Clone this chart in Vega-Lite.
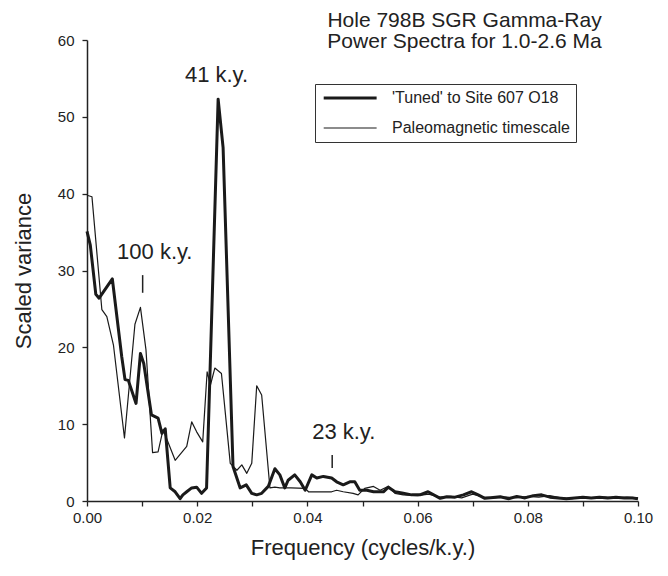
{
  "$schema": "https://vega.github.io/schema/vega-lite/v6.json",
  "width": 551,
  "height": 461,
  "autosize": {"type": "none"},
  "padding": {"left": 87, "top": 40, "right": 30, "bottom": 75},
  "background": "white",
  "title": {
    "text": ["Hole 798B SGR Gamma-Ray", "Power Spectra for 1.0-2.6 Ma"],
    "anchor": "middle",
    "align": "center",
    "dx": 102,
    "offset": -19,
    "fontSize": 21,
    "fontWeight": "normal",
    "lineHeight": 21,
    "color": "#222",
    "font": "Liberation Sans"
  },
  "config": {
    "view": {"stroke": null},
    "font": "Liberation Sans",
    "axis": {
      "grid": false,
      "domainColor": "#222",
      "domainWidth": 1.5,
      "tickColor": "#222",
      "tickWidth": 1.3,
      "tickSize": 5,
      "labelFontSize": 15,
      "labelColor": "#222",
      "titleFontSize": 22,
      "titleFontWeight": "normal",
      "titleColor": "#222",
      "labelOverlap": false,
      "labelFlush": false
    }
  },
  "datasets": {
    "spectra": [
      {"f": 0.0000, "v": 35.1, "series": "'Tuned' to Site 607 O18"},
      {"f": 0.0006, "v": 33.3, "series": "'Tuned' to Site 607 O18"},
      {"f": 0.0016, "v": 26.9, "series": "'Tuned' to Site 607 O18"},
      {"f": 0.0022, "v": 26.4, "series": "'Tuned' to Site 607 O18"},
      {"f": 0.0046, "v": 28.9, "series": "'Tuned' to Site 607 O18"},
      {"f": 0.0063, "v": 18.8, "series": "'Tuned' to Site 607 O18"},
      {"f": 0.0069, "v": 15.8, "series": "'Tuned' to Site 607 O18"},
      {"f": 0.0075, "v": 15.7, "series": "'Tuned' to Site 607 O18"},
      {"f": 0.0089, "v": 12.7, "series": "'Tuned' to Site 607 O18"},
      {"f": 0.0097, "v": 19.2, "series": "'Tuned' to Site 607 O18"},
      {"f": 0.0103, "v": 17.9, "series": "'Tuned' to Site 607 O18"},
      {"f": 0.0117, "v": 11.2, "series": "'Tuned' to Site 607 O18"},
      {"f": 0.0129, "v": 10.8, "series": "'Tuned' to Site 607 O18"},
      {"f": 0.0136, "v": 8.8, "series": "'Tuned' to Site 607 O18"},
      {"f": 0.0142, "v": 9.4, "series": "'Tuned' to Site 607 O18"},
      {"f": 0.0151, "v": 1.7, "series": "'Tuned' to Site 607 O18"},
      {"f": 0.0160, "v": 1.2, "series": "'Tuned' to Site 607 O18"},
      {"f": 0.0169, "v": 0.3, "series": "'Tuned' to Site 607 O18"},
      {"f": 0.0174, "v": 0.8, "series": "'Tuned' to Site 607 O18"},
      {"f": 0.0181, "v": 1.2, "series": "'Tuned' to Site 607 O18"},
      {"f": 0.0190, "v": 1.7, "series": "'Tuned' to Site 607 O18"},
      {"f": 0.0199, "v": 1.8, "series": "'Tuned' to Site 607 O18"},
      {"f": 0.0208, "v": 1.0, "series": "'Tuned' to Site 607 O18"},
      {"f": 0.0217, "v": 1.7, "series": "'Tuned' to Site 607 O18"},
      {"f": 0.0238, "v": 52.3, "series": "'Tuned' to Site 607 O18"},
      {"f": 0.0247, "v": 46.0, "series": "'Tuned' to Site 607 O18"},
      {"f": 0.0265, "v": 4.5, "series": "'Tuned' to Site 607 O18"},
      {"f": 0.0278, "v": 1.7, "series": "'Tuned' to Site 607 O18"},
      {"f": 0.0289, "v": 2.1, "series": "'Tuned' to Site 607 O18"},
      {"f": 0.0299, "v": 1.0, "series": "'Tuned' to Site 607 O18"},
      {"f": 0.0308, "v": 0.8, "series": "'Tuned' to Site 607 O18"},
      {"f": 0.0317, "v": 1.0, "series": "'Tuned' to Site 607 O18"},
      {"f": 0.0329, "v": 1.9, "series": "'Tuned' to Site 607 O18"},
      {"f": 0.0341, "v": 4.2, "series": "'Tuned' to Site 607 O18"},
      {"f": 0.0350, "v": 3.4, "series": "'Tuned' to Site 607 O18"},
      {"f": 0.0359, "v": 1.7, "series": "'Tuned' to Site 607 O18"},
      {"f": 0.0365, "v": 2.7, "series": "'Tuned' to Site 607 O18"},
      {"f": 0.0377, "v": 3.4, "series": "'Tuned' to Site 607 O18"},
      {"f": 0.0387, "v": 2.5, "series": "'Tuned' to Site 607 O18"},
      {"f": 0.0396, "v": 1.4, "series": "'Tuned' to Site 607 O18"},
      {"f": 0.0408, "v": 3.4, "series": "'Tuned' to Site 607 O18"},
      {"f": 0.0417, "v": 3.0, "series": "'Tuned' to Site 607 O18"},
      {"f": 0.0429, "v": 3.2, "series": "'Tuned' to Site 607 O18"},
      {"f": 0.0444, "v": 3.0, "series": "'Tuned' to Site 607 O18"},
      {"f": 0.0453, "v": 2.5, "series": "'Tuned' to Site 607 O18"},
      {"f": 0.0465, "v": 2.1, "series": "'Tuned' to Site 607 O18"},
      {"f": 0.0477, "v": 2.5, "series": "'Tuned' to Site 607 O18"},
      {"f": 0.0486, "v": 2.5, "series": "'Tuned' to Site 607 O18"},
      {"f": 0.0495, "v": 1.4, "series": "'Tuned' to Site 607 O18"},
      {"f": 0.0508, "v": 1.4, "series": "'Tuned' to Site 607 O18"},
      {"f": 0.0520, "v": 1.2, "series": "'Tuned' to Site 607 O18"},
      {"f": 0.0538, "v": 1.2, "series": "'Tuned' to Site 607 O18"},
      {"f": 0.0547, "v": 1.8, "series": "'Tuned' to Site 607 O18"},
      {"f": 0.0559, "v": 1.2, "series": "'Tuned' to Site 607 O18"},
      {"f": 0.0574, "v": 1.0, "series": "'Tuned' to Site 607 O18"},
      {"f": 0.0589, "v": 0.8, "series": "'Tuned' to Site 607 O18"},
      {"f": 0.0604, "v": 0.8, "series": "'Tuned' to Site 607 O18"},
      {"f": 0.0619, "v": 1.2, "series": "'Tuned' to Site 607 O18"},
      {"f": 0.0641, "v": 0.35, "series": "'Tuned' to Site 607 O18"},
      {"f": 0.0653, "v": 0.55, "series": "'Tuned' to Site 607 O18"},
      {"f": 0.0668, "v": 0.5, "series": "'Tuned' to Site 607 O18"},
      {"f": 0.0683, "v": 0.8, "series": "'Tuned' to Site 607 O18"},
      {"f": 0.0698, "v": 1.2, "series": "'Tuned' to Site 607 O18"},
      {"f": 0.0710, "v": 0.8, "series": "'Tuned' to Site 607 O18"},
      {"f": 0.0722, "v": 0.35, "series": "'Tuned' to Site 607 O18"},
      {"f": 0.0737, "v": 0.45, "series": "'Tuned' to Site 607 O18"},
      {"f": 0.0750, "v": 0.55, "series": "'Tuned' to Site 607 O18"},
      {"f": 0.0765, "v": 0.3, "series": "'Tuned' to Site 607 O18"},
      {"f": 0.0780, "v": 0.6, "series": "'Tuned' to Site 607 O18"},
      {"f": 0.0795, "v": 0.4, "series": "'Tuned' to Site 607 O18"},
      {"f": 0.0810, "v": 0.7, "series": "'Tuned' to Site 607 O18"},
      {"f": 0.0825, "v": 0.8, "series": "'Tuned' to Site 607 O18"},
      {"f": 0.0840, "v": 0.5, "series": "'Tuned' to Site 607 O18"},
      {"f": 0.0855, "v": 0.4, "series": "'Tuned' to Site 607 O18"},
      {"f": 0.0870, "v": 0.3, "series": "'Tuned' to Site 607 O18"},
      {"f": 0.0885, "v": 0.4, "series": "'Tuned' to Site 607 O18"},
      {"f": 0.0900, "v": 0.5, "series": "'Tuned' to Site 607 O18"},
      {"f": 0.0915, "v": 0.4, "series": "'Tuned' to Site 607 O18"},
      {"f": 0.0930, "v": 0.5, "series": "'Tuned' to Site 607 O18"},
      {"f": 0.0945, "v": 0.4, "series": "'Tuned' to Site 607 O18"},
      {"f": 0.0960, "v": 0.5, "series": "'Tuned' to Site 607 O18"},
      {"f": 0.0975, "v": 0.4, "series": "'Tuned' to Site 607 O18"},
      {"f": 0.0990, "v": 0.4, "series": "'Tuned' to Site 607 O18"},
      {"f": 0.1000, "v": 0.3, "series": "'Tuned' to Site 607 O18"},
      {"f": 0.0000, "v": 39.8, "series": "Paleomagnetic timescale"},
      {"f": 0.0009, "v": 39.6, "series": "Paleomagnetic timescale"},
      {"f": 0.0027, "v": 24.9, "series": "Paleomagnetic timescale"},
      {"f": 0.0036, "v": 24.0, "series": "Paleomagnetic timescale"},
      {"f": 0.0048, "v": 20.3, "series": "Paleomagnetic timescale"},
      {"f": 0.0068, "v": 8.2, "series": "Paleomagnetic timescale"},
      {"f": 0.0087, "v": 23.0, "series": "Paleomagnetic timescale"},
      {"f": 0.0097, "v": 25.2, "series": "Paleomagnetic timescale"},
      {"f": 0.0107, "v": 19.7, "series": "Paleomagnetic timescale"},
      {"f": 0.0119, "v": 6.3, "series": "Paleomagnetic timescale"},
      {"f": 0.0129, "v": 6.4, "series": "Paleomagnetic timescale"},
      {"f": 0.0138, "v": 9.3, "series": "Paleomagnetic timescale"},
      {"f": 0.0160, "v": 5.3, "series": "Paleomagnetic timescale"},
      {"f": 0.0181, "v": 7.1, "series": "Paleomagnetic timescale"},
      {"f": 0.0190, "v": 10.3, "series": "Paleomagnetic timescale"},
      {"f": 0.0199, "v": 9.0, "series": "Paleomagnetic timescale"},
      {"f": 0.0210, "v": 7.7, "series": "Paleomagnetic timescale"},
      {"f": 0.0218, "v": 16.8, "series": "Paleomagnetic timescale"},
      {"f": 0.0224, "v": 15.1, "series": "Paleomagnetic timescale"},
      {"f": 0.0232, "v": 17.3, "series": "Paleomagnetic timescale"},
      {"f": 0.0244, "v": 16.6, "series": "Paleomagnetic timescale"},
      {"f": 0.0260, "v": 4.9, "series": "Paleomagnetic timescale"},
      {"f": 0.0272, "v": 4.0, "series": "Paleomagnetic timescale"},
      {"f": 0.0281, "v": 4.7, "series": "Paleomagnetic timescale"},
      {"f": 0.0290, "v": 3.6, "series": "Paleomagnetic timescale"},
      {"f": 0.0299, "v": 4.9, "series": "Paleomagnetic timescale"},
      {"f": 0.0308, "v": 15.0, "series": "Paleomagnetic timescale"},
      {"f": 0.0317, "v": 13.8, "series": "Paleomagnetic timescale"},
      {"f": 0.0332, "v": 1.7, "series": "Paleomagnetic timescale"},
      {"f": 0.0341, "v": 1.8, "series": "Paleomagnetic timescale"},
      {"f": 0.0350, "v": 1.7, "series": "Paleomagnetic timescale"},
      {"f": 0.0370, "v": 1.7, "series": "Paleomagnetic timescale"},
      {"f": 0.0396, "v": 1.65, "series": "Paleomagnetic timescale"},
      {"f": 0.0402, "v": 1.2, "series": "Paleomagnetic timescale"},
      {"f": 0.0444, "v": 1.2, "series": "Paleomagnetic timescale"},
      {"f": 0.0453, "v": 1.4, "series": "Paleomagnetic timescale"},
      {"f": 0.0465, "v": 1.2, "series": "Paleomagnetic timescale"},
      {"f": 0.0483, "v": 1.0, "series": "Paleomagnetic timescale"},
      {"f": 0.0492, "v": 0.8, "series": "Paleomagnetic timescale"},
      {"f": 0.0504, "v": 1.65, "series": "Paleomagnetic timescale"},
      {"f": 0.0520, "v": 1.9, "series": "Paleomagnetic timescale"},
      {"f": 0.0532, "v": 1.4, "series": "Paleomagnetic timescale"},
      {"f": 0.0547, "v": 1.9, "series": "Paleomagnetic timescale"},
      {"f": 0.0559, "v": 1.0, "series": "Paleomagnetic timescale"},
      {"f": 0.0574, "v": 0.8, "series": "Paleomagnetic timescale"},
      {"f": 0.0600, "v": 0.7, "series": "Paleomagnetic timescale"},
      {"f": 0.0620, "v": 0.9, "series": "Paleomagnetic timescale"},
      {"f": 0.0640, "v": 0.5, "series": "Paleomagnetic timescale"},
      {"f": 0.0660, "v": 0.6, "series": "Paleomagnetic timescale"},
      {"f": 0.0680, "v": 0.4, "series": "Paleomagnetic timescale"},
      {"f": 0.0700, "v": 0.9, "series": "Paleomagnetic timescale"},
      {"f": 0.0720, "v": 0.5, "series": "Paleomagnetic timescale"},
      {"f": 0.0740, "v": 0.4, "series": "Paleomagnetic timescale"},
      {"f": 0.0760, "v": 0.5, "series": "Paleomagnetic timescale"},
      {"f": 0.0780, "v": 0.4, "series": "Paleomagnetic timescale"},
      {"f": 0.0800, "v": 0.6, "series": "Paleomagnetic timescale"},
      {"f": 0.0820, "v": 0.5, "series": "Paleomagnetic timescale"},
      {"f": 0.0840, "v": 0.7, "series": "Paleomagnetic timescale"},
      {"f": 0.0860, "v": 0.4, "series": "Paleomagnetic timescale"},
      {"f": 0.0880, "v": 0.3, "series": "Paleomagnetic timescale"},
      {"f": 0.0900, "v": 0.5, "series": "Paleomagnetic timescale"},
      {"f": 0.0920, "v": 0.4, "series": "Paleomagnetic timescale"},
      {"f": 0.0940, "v": 0.5, "series": "Paleomagnetic timescale"},
      {"f": 0.0960, "v": 0.4, "series": "Paleomagnetic timescale"},
      {"f": 0.0980, "v": 0.5, "series": "Paleomagnetic timescale"},
      {"f": 0.1000, "v": 0.4, "series": "Paleomagnetic timescale"}
    ],
    "labels": [
      {"f": 0.0235, "v": 55.5, "label": "41 k.y."},
      {"f": 0.0123, "v": 32.4, "label": "100 k.y."},
      {"f": 0.0466, "v": 9.0, "label": "23 k.y."}
    ],
    "ticks": [
      {"f": 0.0101, "v": 27.1, "v2": 29.4},
      {"f": 0.0445, "v": 4.3, "v2": 6.0}
    ]
  },
  "layer": [
    {
      "data": {"name": "spectra"},
      "mark": {"type": "line", "color": "#1a1a1a", "strokeJoin": "round"},
      "encoding": {
        "x": {
          "field": "f",
          "type": "quantitative",
          "scale": {"domain": [0, 0.1], "nice": false, "zero": false},
          "axis": {
            "title": "Frequency (cycles/k.y.)",
            "values": [0, 0.01, 0.02, 0.03, 0.04, 0.05, 0.06, 0.07, 0.08, 0.09, 0.1],
            "labelExpr": "round(datum.value * 100) % 2 == 0 ? format(datum.value, '.2f') : ''",
            "labelPadding": 4,
            "titlePadding": 12
          }
        },
        "y": {
          "field": "v",
          "type": "quantitative",
          "scale": {"domain": [0, 60], "nice": false},
          "axis": {
            "title": "Scaled variance",
            "values": [0, 5, 10, 15, 20, 25, 30, 35, 40, 45, 50, 55, 60],
            "labelExpr": "datum.value % 10 == 0 ? datum.label : ''",
            "labelPadding": 8,
            "titlePadding": 22
          }
        },
        "strokeWidth": {
          "field": "series",
          "type": "nominal",
          "scale": {
            "domain": ["'Tuned' to Site 607 O18", "Paleomagnetic timescale"],
            "range": [3, 1.2]
          },
          "legend": {
            "title": null,
            "orient": "none",
            "legendX": 228,
            "legendY": 44,
            "strokeColor": "#333",
            "padding": 6,
            "symbolType": "M-1,0H9",
            "symbolSize": 112,
            "symbolStrokeColor": "#1a1a1a",
            "symbolFillColor": "transparent",
            "labelOffset": 55,
            "labelFontSize": 16,
            "labelLimit": 400,
            "labelColor": "#222",
            "rowPadding": 14
          }
        }
      }
    },
    {
      "data": {"name": "labels"},
      "mark": {"type": "text", "fontSize": 22, "color": "#222", "align": "center", "baseline": "middle"},
      "encoding": {
        "x": {"field": "f", "type": "quantitative"},
        "y": {"field": "v", "type": "quantitative"},
        "text": {"field": "label"}
      }
    },
    {
      "data": {"name": "ticks"},
      "mark": {"type": "rule", "color": "#222", "strokeWidth": 1.5},
      "encoding": {
        "x": {"field": "f", "type": "quantitative"},
        "y": {"field": "v", "type": "quantitative"},
        "y2": {"field": "v2"}
      }
    }
  ]
}
